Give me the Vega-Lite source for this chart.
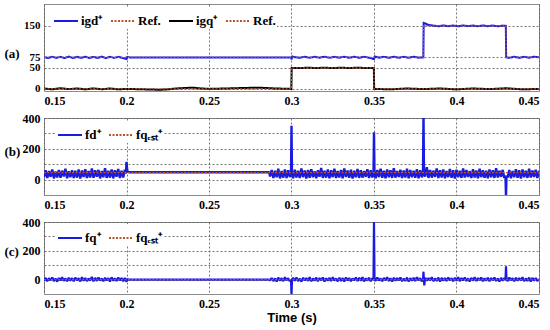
{
"$schema":"https://vega.github.io/schema/vega-lite/v6.json",
"padding":{"left":3,"top":3,"right":0,"bottom":0},
"background":"white",
"spacing":4,
"config":{
"view":{"stroke":"#8c8c8c","strokeWidth":1},
"axis":{"labelFont":"Liberation Serif","labelFontWeight":"bold","labelFontSize":12,"labelColor":"#000","ticks":false,"domain":false,"grid":true,"gridDash":[2,2],"gridColor":"#555","gridWidth":0.8,"labelPadding":4,"labelOverlap":false},
"axisY":{"titleAngle":0,"titleX":-40,"titleAlign":"left","titleBaseline":"middle","titleFont":"Liberation Serif","titleFontWeight":"bold","titleFontSize":13,"titleColor":"#000"},
"legend":{"orient":"none","direction":"horizontal","symbolType":"stroke","symbolSize":576,"symbolStrokeWidth":2,"labelFont":"Liberation Serif","labelFontWeight":"bold","labelFontSize":13,"labelColor":"#000","labelOffset":2,"columnPadding":4,"padding":1,"fillColor":"white","title":null}
},
"datasets":{
"a":[
{"t":0.150,"v":75.5,"s":"igd"},{"t":0.1525,"v":73.5,"s":"igd"},{"t":0.155,"v":76.5,"s":"igd"},{"t":0.1575,"v":73.8,"s":"igd"},{"t":0.160,"v":76.2,"s":"igd"},{"t":0.1625,"v":73.4,"s":"igd"},{"t":0.165,"v":76.8,"s":"igd"},{"t":0.1675,"v":73.6,"s":"igd"},{"t":0.170,"v":76.3,"s":"igd"},{"t":0.1725,"v":73.9,"s":"igd"},{"t":0.175,"v":76.6,"s":"igd"},{"t":0.1775,"v":73.5,"s":"igd"},{"t":0.180,"v":76.1,"s":"igd"},{"t":0.1825,"v":73.7,"s":"igd"},{"t":0.185,"v":76.7,"s":"igd"},{"t":0.1875,"v":73.3,"s":"igd"},{"t":0.190,"v":76.4,"s":"igd"},{"t":0.1925,"v":73.8,"s":"igd"},{"t":0.195,"v":76.2,"s":"igd"},{"t":0.1975,"v":73.6,"s":"igd"},{"t":0.200,"v":71,"s":"igd"},{"t":0.2005,"v":76,"s":"igd"},{"t":0.202,"v":75,"s":"igd"},{"t":0.25,"v":75,"s":"igd"},{"t":0.2999,"v":75,"s":"igd"},{"t":0.300,"v":70,"s":"igd"},{"t":0.3005,"v":77,"s":"igd"},{"t":0.302,"v":75.5,"s":"igd"},
{"t":0.305,"v":74,"s":"igd"},{"t":0.308,"v":76.5,"s":"igd"},{"t":0.311,"v":74,"s":"igd"},{"t":0.314,"v":76.3,"s":"igd"},{"t":0.317,"v":74.2,"s":"igd"},{"t":0.320,"v":76.6,"s":"igd"},{"t":0.323,"v":74,"s":"igd"},{"t":0.326,"v":76.2,"s":"igd"},{"t":0.329,"v":74.3,"s":"igd"},{"t":0.332,"v":76.5,"s":"igd"},{"t":0.335,"v":74.1,"s":"igd"},{"t":0.338,"v":76.4,"s":"igd"},{"t":0.341,"v":74,"s":"igd"},{"t":0.344,"v":76.3,"s":"igd"},{"t":0.347,"v":74.2,"s":"igd"},{"t":0.350,"v":71,"s":"igd"},{"t":0.3505,"v":77,"s":"igd"},{"t":0.353,"v":74.3,"s":"igd"},{"t":0.356,"v":76.4,"s":"igd"},{"t":0.359,"v":74,"s":"igd"},{"t":0.362,"v":76.5,"s":"igd"},{"t":0.365,"v":74.2,"s":"igd"},{"t":0.368,"v":76.3,"s":"igd"},{"t":0.371,"v":74.1,"s":"igd"},{"t":0.374,"v":76.5,"s":"igd"},{"t":0.377,"v":74.3,"s":"igd"},{"t":0.3799,"v":75,"s":"igd"},
{"t":0.3801,"v":157,"s":"igd"},{"t":0.381,"v":156,"s":"igd"},{"t":0.383,"v":152,"s":"igd"},{"t":0.386,"v":150.5,"s":"igd"},{"t":0.389,"v":149,"s":"igd"},{"t":0.392,"v":151,"s":"igd"},{"t":0.395,"v":149.2,"s":"igd"},{"t":0.398,"v":150.8,"s":"igd"},{"t":0.401,"v":149,"s":"igd"},{"t":0.404,"v":151,"s":"igd"},{"t":0.407,"v":149.3,"s":"igd"},{"t":0.410,"v":150.7,"s":"igd"},{"t":0.413,"v":149.1,"s":"igd"},{"t":0.416,"v":151,"s":"igd"},{"t":0.419,"v":149.2,"s":"igd"},{"t":0.422,"v":150.8,"s":"igd"},{"t":0.425,"v":149,"s":"igd"},{"t":0.428,"v":150.6,"s":"igd"},{"t":0.4299,"v":150,"s":"igd"},{"t":0.4301,"v":75,"s":"igd"},{"t":0.432,"v":74,"s":"igd"},{"t":0.435,"v":76.4,"s":"igd"},{"t":0.438,"v":74,"s":"igd"},{"t":0.441,"v":76.3,"s":"igd"},{"t":0.444,"v":74.2,"s":"igd"},{"t":0.447,"v":76.5,"s":"igd"},{"t":0.450,"v":75,"s":"igd"},
{"t":0.150,"v":1,"s":"igq"},{"t":0.155,"v":-1,"s":"igq"},{"t":0.160,"v":1.5,"s":"igq"},{"t":0.165,"v":-0.5,"s":"igq"},{"t":0.170,"v":1,"s":"igq"},{"t":0.175,"v":-1,"s":"igq"},{"t":0.180,"v":1.2,"s":"igq"},{"t":0.185,"v":-0.8,"s":"igq"},{"t":0.190,"v":1,"s":"igq"},{"t":0.195,"v":-1,"s":"igq"},{"t":0.200,"v":0,"s":"igq"},{"t":0.210,"v":-1,"s":"igq"},{"t":0.220,"v":-2,"s":"igq"},{"t":0.225,"v":-1,"s":"igq"},{"t":0.230,"v":1,"s":"igq"},{"t":0.235,"v":2,"s":"igq"},{"t":0.240,"v":3,"s":"igq"},{"t":0.245,"v":1,"s":"igq"},{"t":0.250,"v":0,"s":"igq"},{"t":0.260,"v":1,"s":"igq"},{"t":0.270,"v":2,"s":"igq"},{"t":0.280,"v":3,"s":"igq"},{"t":0.285,"v":2,"s":"igq"},{"t":0.290,"v":1,"s":"igq"},{"t":0.2999,"v":0,"s":"igq"},{"t":0.3001,"v":50,"s":"igq"},{"t":0.305,"v":49.5,"s":"igq"},{"t":0.310,"v":50.5,"s":"igq"},{"t":0.315,"v":49.6,"s":"igq"},{"t":0.320,"v":50.4,"s":"igq"},{"t":0.325,"v":49.5,"s":"igq"},{"t":0.330,"v":50.5,"s":"igq"},{"t":0.335,"v":49.6,"s":"igq"},{"t":0.340,"v":50.4,"s":"igq"},{"t":0.345,"v":49.7,"s":"igq"},{"t":0.3499,"v":50,"s":"igq"},{"t":0.3501,"v":0,"s":"igq"},{"t":0.360,"v":-1,"s":"igq"},{"t":0.370,"v":1,"s":"igq"},{"t":0.380,"v":-0.5,"s":"igq"},{"t":0.390,"v":1,"s":"igq"},{"t":0.400,"v":-1,"s":"igq"},{"t":0.410,"v":1,"s":"igq"},{"t":0.420,"v":-0.5,"s":"igq"},{"t":0.430,"v":1.5,"s":"igq"},{"t":0.440,"v":-1,"s":"igq"},{"t":0.450,"v":0,"s":"igq"},
{"t":0.150,"v":75,"s":"Ref1"},{"t":0.380,"v":75,"s":"Ref1"},{"t":0.38001,"v":150,"s":"Ref1"},{"t":0.430,"v":150,"s":"Ref1"},{"t":0.43001,"v":75,"s":"Ref1"},{"t":0.450,"v":75,"s":"Ref1"},
{"t":0.150,"v":0,"s":"Ref2"},{"t":0.300,"v":0,"s":"Ref2"},{"t":0.30001,"v":50,"s":"Ref2"},{"t":0.350,"v":50,"s":"Ref2"},{"t":0.35001,"v":0,"s":"Ref2"},{"t":0.450,"v":0,"s":"Ref2"}
],
"b":[
{"t":0.150,"v":15,"s":"fd"},{"t":0.151,"v":60,"s":"fd"},{"t":0.152,"v":10,"s":"fd"},{"t":0.153,"v":55,"s":"fd"},{"t":0.154,"v":18,"s":"fd"},{"t":0.155,"v":66,"s":"fd"},{"t":0.156,"v":8,"s":"fd"},{"t":0.157,"v":52,"s":"fd"},{"t":0.158,"v":14,"s":"fd"},{"t":0.159,"v":62,"s":"fd"},{"t":0.160,"v":12,"s":"fd"},{"t":0.161,"v":58,"s":"fd"},{"t":0.162,"v":20,"s":"fd"},{"t":0.163,"v":70,"s":"fd"},{"t":0.164,"v":9,"s":"fd"},{"t":0.165,"v":54,"s":"fd"},{"t":0.166,"v":16,"s":"fd"},{"t":0.167,"v":61,"s":"fd"},{"t":0.168,"v":11,"s":"fd"},{"t":0.169,"v":57,"s":"fd"},{"t":0.170,"v":13,"s":"fd"},{"t":0.171,"v":65,"s":"fd"},{"t":0.172,"v":7,"s":"fd"},{"t":0.173,"v":59,"s":"fd"},{"t":0.174,"v":17,"s":"fd"},{"t":0.175,"v":68,"s":"fd"},{"t":0.176,"v":10,"s":"fd"},{"t":0.177,"v":56,"s":"fd"},{"t":0.178,"v":14,"s":"fd"},{"t":0.179,"v":72,"s":"fd"},{"t":0.180,"v":12,"s":"fd"},{"t":0.181,"v":60,"s":"fd"},{"t":0.182,"v":19,"s":"fd"},{"t":0.183,"v":63,"s":"fd"},{"t":0.184,"v":8,"s":"fd"},{"t":0.185,"v":55,"s":"fd"},{"t":0.186,"v":15,"s":"fd"},{"t":0.187,"v":74,"s":"fd"},{"t":0.188,"v":11,"s":"fd"},{"t":0.189,"v":58,"s":"fd"},{"t":0.190,"v":13,"s":"fd"},{"t":0.191,"v":66,"s":"fd"},{"t":0.192,"v":9,"s":"fd"},{"t":0.193,"v":61,"s":"fd"},{"t":0.194,"v":18,"s":"fd"},{"t":0.195,"v":69,"s":"fd"},{"t":0.196,"v":10,"s":"fd"},{"t":0.197,"v":57,"s":"fd"},{"t":0.198,"v":14,"s":"fd"},{"t":0.199,"v":64,"s":"fd"},{"t":0.1997,"v":40,"s":"fd"},{"t":0.200,"v":115,"s":"fd"},{"t":0.2005,"v":55,"s":"fd"},{"t":0.2015,"v":48,"s":"fd"},{"t":0.2865,"v":48,"s":"fd"},
{"t":0.287,"v":20,"s":"fd"},{"t":0.288,"v":62,"s":"fd"},{"t":0.289,"v":10,"s":"fd"},{"t":0.290,"v":58,"s":"fd"},{"t":0.291,"v":15,"s":"fd"},{"t":0.292,"v":70,"s":"fd"},{"t":0.293,"v":8,"s":"fd"},{"t":0.294,"v":55,"s":"fd"},{"t":0.295,"v":13,"s":"fd"},{"t":0.296,"v":66,"s":"fd"},{"t":0.297,"v":11,"s":"fd"},{"t":0.298,"v":60,"s":"fd"},{"t":0.299,"v":17,"s":"fd"},{"t":0.2997,"v":35,"s":"fd"},{"t":0.300,"v":350,"s":"fd"},{"t":0.3003,"v":35,"s":"fd"},{"t":0.301,"v":9,"s":"fd"},{"t":0.302,"v":64,"s":"fd"},{"t":0.303,"v":14,"s":"fd"},{"t":0.304,"v":57,"s":"fd"},{"t":0.305,"v":10,"s":"fd"},{"t":0.306,"v":72,"s":"fd"},{"t":0.307,"v":16,"s":"fd"},{"t":0.308,"v":59,"s":"fd"},{"t":0.309,"v":7,"s":"fd"},{"t":0.310,"v":63,"s":"fd"},{"t":0.311,"v":12,"s":"fd"},{"t":0.312,"v":68,"s":"fd"},{"t":0.313,"v":15,"s":"fd"},{"t":0.314,"v":54,"s":"fd"},{"t":0.315,"v":9,"s":"fd"},{"t":0.316,"v":61,"s":"fd"},{"t":0.317,"v":18,"s":"fd"},{"t":0.318,"v":75,"s":"fd"},{"t":0.319,"v":11,"s":"fd"},{"t":0.320,"v":58,"s":"fd"},{"t":0.321,"v":13,"s":"fd"},{"t":0.322,"v":65,"s":"fd"},{"t":0.323,"v":8,"s":"fd"},{"t":0.324,"v":60,"s":"fd"},{"t":0.325,"v":16,"s":"fd"},{"t":0.326,"v":70,"s":"fd"},{"t":0.327,"v":10,"s":"fd"},{"t":0.328,"v":56,"s":"fd"},{"t":0.329,"v":14,"s":"fd"},{"t":0.330,"v":62,"s":"fd"},{"t":0.331,"v":9,"s":"fd"},{"t":0.332,"v":73,"s":"fd"},{"t":0.333,"v":17,"s":"fd"},{"t":0.334,"v":59,"s":"fd"},{"t":0.335,"v":12,"s":"fd"},{"t":0.336,"v":64,"s":"fd"},{"t":0.337,"v":7,"s":"fd"},{"t":0.338,"v":57,"s":"fd"},{"t":0.339,"v":15,"s":"fd"},{"t":0.340,"v":69,"s":"fd"},{"t":0.341,"v":11,"s":"fd"},{"t":0.342,"v":61,"s":"fd"},{"t":0.343,"v":13,"s":"fd"},{"t":0.344,"v":55,"s":"fd"},{"t":0.345,"v":18,"s":"fd"},{"t":0.346,"v":67,"s":"fd"},{"t":0.347,"v":10,"s":"fd"},{"t":0.348,"v":60,"s":"fd"},{"t":0.349,"v":14,"s":"fd"},{"t":0.3497,"v":35,"s":"fd"},{"t":0.350,"v":307,"s":"fd"},{"t":0.3503,"v":35,"s":"fd"},{"t":0.351,"v":9,"s":"fd"},{"t":0.352,"v":63,"s":"fd"},{"t":0.353,"v":16,"s":"fd"},{"t":0.354,"v":71,"s":"fd"},{"t":0.355,"v":12,"s":"fd"},{"t":0.356,"v":58,"s":"fd"},{"t":0.357,"v":8,"s":"fd"},{"t":0.358,"v":66,"s":"fd"},{"t":0.359,"v":15,"s":"fd"},{"t":0.360,"v":61,"s":"fd"},{"t":0.361,"v":11,"s":"fd"},{"t":0.362,"v":74,"s":"fd"},{"t":0.363,"v":13,"s":"fd"},{"t":0.364,"v":56,"s":"fd"},{"t":0.365,"v":17,"s":"fd"},{"t":0.366,"v":64,"s":"fd"},{"t":0.367,"v":10,"s":"fd"},{"t":0.368,"v":59,"s":"fd"},{"t":0.369,"v":14,"s":"fd"},{"t":0.370,"v":70,"s":"fd"},{"t":0.371,"v":9,"s":"fd"},{"t":0.372,"v":62,"s":"fd"},{"t":0.373,"v":16,"s":"fd"},{"t":0.374,"v":57,"s":"fd"},{"t":0.375,"v":12,"s":"fd"},{"t":0.376,"v":68,"s":"fd"},{"t":0.377,"v":8,"s":"fd"},{"t":0.378,"v":60,"s":"fd"},{"t":0.379,"v":15,"s":"fd"},{"t":0.3797,"v":35,"s":"fd"},{"t":0.380,"v":420,"s":"fd"},{"t":0.3803,"v":40,"s":"fd"},{"t":0.381,"v":20,"s":"fd"},{"t":0.382,"v":80,"s":"fd"},{"t":0.383,"v":11,"s":"fd"},{"t":0.384,"v":63,"s":"fd"},{"t":0.385,"v":13,"s":"fd"},{"t":0.386,"v":58,"s":"fd"},{"t":0.387,"v":18,"s":"fd"},{"t":0.388,"v":72,"s":"fd"},{"t":0.389,"v":10,"s":"fd"},{"t":0.390,"v":61,"s":"fd"},{"t":0.391,"v":14,"s":"fd"},{"t":0.392,"v":65,"s":"fd"},{"t":0.393,"v":9,"s":"fd"},{"t":0.394,"v":56,"s":"fd"},{"t":0.395,"v":16,"s":"fd"},{"t":0.396,"v":69,"s":"fd"},{"t":0.397,"v":12,"s":"fd"},{"t":0.398,"v":60,"s":"fd"},{"t":0.399,"v":7,"s":"fd"},{"t":0.400,"v":64,"s":"fd"},{"t":0.401,"v":15,"s":"fd"},{"t":0.402,"v":58,"s":"fd"},{"t":0.403,"v":11,"s":"fd"},{"t":0.404,"v":73,"s":"fd"},{"t":0.405,"v":13,"s":"fd"},{"t":0.406,"v":62,"s":"fd"},{"t":0.407,"v":17,"s":"fd"},{"t":0.408,"v":55,"s":"fd"},{"t":0.409,"v":10,"s":"fd"},{"t":0.410,"v":67,"s":"fd"},{"t":0.411,"v":14,"s":"fd"},{"t":0.412,"v":59,"s":"fd"},{"t":0.413,"v":8,"s":"fd"},{"t":0.414,"v":70,"s":"fd"},{"t":0.415,"v":16,"s":"fd"},{"t":0.416,"v":61,"s":"fd"},{"t":0.417,"v":12,"s":"fd"},{"t":0.418,"v":57,"s":"fd"},{"t":0.419,"v":9,"s":"fd"},{"t":0.420,"v":66,"s":"fd"},{"t":0.421,"v":15,"s":"fd"},{"t":0.422,"v":60,"s":"fd"},{"t":0.423,"v":11,"s":"fd"},{"t":0.424,"v":74,"s":"fd"},{"t":0.425,"v":13,"s":"fd"},{"t":0.426,"v":58,"s":"fd"},{"t":0.427,"v":18,"s":"fd"},{"t":0.428,"v":63,"s":"fd"},{"t":0.429,"v":10,"s":"fd"},{"t":0.4297,"v":25,"s":"fd"},{"t":0.430,"v":-110,"s":"fd"},{"t":0.4303,"v":25,"s":"fd"},{"t":0.431,"v":14,"s":"fd"},{"t":0.432,"v":62,"s":"fd"},{"t":0.433,"v":9,"s":"fd"},{"t":0.434,"v":56,"s":"fd"},{"t":0.435,"v":16,"s":"fd"},{"t":0.436,"v":68,"s":"fd"},{"t":0.437,"v":12,"s":"fd"},{"t":0.438,"v":60,"s":"fd"},{"t":0.439,"v":7,"s":"fd"},{"t":0.440,"v":65,"s":"fd"},{"t":0.441,"v":15,"s":"fd"},{"t":0.442,"v":58,"s":"fd"},{"t":0.443,"v":11,"s":"fd"},{"t":0.444,"v":71,"s":"fd"},{"t":0.445,"v":13,"s":"fd"},{"t":0.446,"v":59,"s":"fd"},{"t":0.447,"v":17,"s":"fd"},{"t":0.448,"v":64,"s":"fd"},{"t":0.449,"v":10,"s":"fd"},{"t":0.450,"v":57,"s":"fd"},
{"t":0.150,"v":45,"s":"est"},{"t":0.450,"v":45,"s":"est"}
],
"c":[
{"t":0.150,"v":-8,"s":"fq"},{"t":0.151,"v":12,"s":"fq"},{"t":0.152,"v":-12,"s":"fq"},{"t":0.153,"v":9,"s":"fq"},{"t":0.154,"v":-5,"s":"fq"},{"t":0.155,"v":15,"s":"fq"},{"t":0.156,"v":-10,"s":"fq"},{"t":0.157,"v":7,"s":"fq"},{"t":0.158,"v":-14,"s":"fq"},{"t":0.159,"v":11,"s":"fq"},{"t":0.160,"v":-6,"s":"fq"},{"t":0.161,"v":16,"s":"fq"},{"t":0.162,"v":-9,"s":"fq"},{"t":0.163,"v":8,"s":"fq"},{"t":0.164,"v":-12,"s":"fq"},{"t":0.165,"v":13,"s":"fq"},{"t":0.166,"v":-7,"s":"fq"},{"t":0.167,"v":10,"s":"fq"},{"t":0.168,"v":-11,"s":"fq"},{"t":0.169,"v":14,"s":"fq"},{"t":0.170,"v":-5,"s":"fq"},{"t":0.171,"v":9,"s":"fq"},{"t":0.172,"v":-13,"s":"fq"},{"t":0.173,"v":17,"s":"fq"},{"t":0.174,"v":-8,"s":"fq"},{"t":0.175,"v":11,"s":"fq"},{"t":0.176,"v":-10,"s":"fq"},{"t":0.177,"v":7,"s":"fq"},{"t":0.178,"v":-6,"s":"fq"},{"t":0.179,"v":18,"s":"fq"},{"t":0.180,"v":-12,"s":"fq"},{"t":0.181,"v":12,"s":"fq"},{"t":0.182,"v":-9,"s":"fq"},{"t":0.183,"v":15,"s":"fq"},{"t":0.184,"v":-7,"s":"fq"},{"t":0.185,"v":8,"s":"fq"},{"t":0.186,"v":-11,"s":"fq"},{"t":0.187,"v":13,"s":"fq"},{"t":0.188,"v":-5,"s":"fq"},{"t":0.189,"v":10,"s":"fq"},{"t":0.190,"v":-13,"s":"fq"},{"t":0.191,"v":16,"s":"fq"},{"t":0.192,"v":-8,"s":"fq"},{"t":0.193,"v":9,"s":"fq"},{"t":0.194,"v":-10,"s":"fq"},{"t":0.195,"v":14,"s":"fq"},{"t":0.196,"v":-6,"s":"fq"},{"t":0.197,"v":11,"s":"fq"},{"t":0.198,"v":-12,"s":"fq"},{"t":0.199,"v":12,"s":"fq"},{"t":0.200,"v":-15,"s":"fq"},{"t":0.2005,"v":5,"s":"fq"},{"t":0.201,"v":0,"s":"fq"},{"t":0.2865,"v":0,"s":"fq"},
{"t":0.287,"v":-6,"s":"fq"},{"t":0.288,"v":11,"s":"fq"},{"t":0.289,"v":-10,"s":"fq"},{"t":0.290,"v":8,"s":"fq"},{"t":0.291,"v":-13,"s":"fq"},{"t":0.292,"v":14,"s":"fq"},{"t":0.293,"v":-7,"s":"fq"},{"t":0.294,"v":10,"s":"fq"},{"t":0.295,"v":-11,"s":"fq"},{"t":0.296,"v":16,"s":"fq"},{"t":0.297,"v":-5,"s":"fq"},{"t":0.298,"v":9,"s":"fq"},{"t":0.299,"v":-12,"s":"fq"},{"t":0.2997,"v":0,"s":"fq"},{"t":0.300,"v":-110,"s":"fq"},{"t":0.3003,"v":0,"s":"fq"},{"t":0.301,"v":12,"s":"fq"},{"t":0.302,"v":-8,"s":"fq"},{"t":0.303,"v":15,"s":"fq"},{"t":0.304,"v":-10,"s":"fq"},{"t":0.305,"v":7,"s":"fq"},{"t":0.306,"v":-14,"s":"fq"},{"t":0.307,"v":13,"s":"fq"},{"t":0.308,"v":-6,"s":"fq"},{"t":0.309,"v":10,"s":"fq"},{"t":0.310,"v":-9,"s":"fq"},{"t":0.311,"v":17,"s":"fq"},{"t":0.312,"v":-12,"s":"fq"},{"t":0.313,"v":8,"s":"fq"},{"t":0.314,"v":-7,"s":"fq"},{"t":0.315,"v":14,"s":"fq"},{"t":0.316,"v":-11,"s":"fq"},{"t":0.317,"v":11,"s":"fq"},{"t":0.318,"v":-5,"s":"fq"},{"t":0.319,"v":15,"s":"fq"},{"t":0.320,"v":-13,"s":"fq"},{"t":0.321,"v":9,"s":"fq"},{"t":0.322,"v":-8,"s":"fq"},{"t":0.323,"v":12,"s":"fq"},{"t":0.324,"v":-10,"s":"fq"},{"t":0.325,"v":16,"s":"fq"},{"t":0.326,"v":-6,"s":"fq"},{"t":0.327,"v":7,"s":"fq"},{"t":0.328,"v":-12,"s":"fq"},{"t":0.329,"v":13,"s":"fq"},{"t":0.330,"v":-9,"s":"fq"},{"t":0.331,"v":10,"s":"fq"},{"t":0.332,"v":-14,"s":"fq"},{"t":0.333,"v":15,"s":"fq"},{"t":0.334,"v":-7,"s":"fq"},{"t":0.335,"v":11,"s":"fq"},{"t":0.336,"v":-11,"s":"fq"},{"t":0.337,"v":8,"s":"fq"},{"t":0.338,"v":-5,"s":"fq"},{"t":0.339,"v":14,"s":"fq"},{"t":0.340,"v":-10,"s":"fq"},{"t":0.341,"v":12,"s":"fq"},{"t":0.342,"v":-8,"s":"fq"},{"t":0.343,"v":17,"s":"fq"},{"t":0.344,"v":-13,"s":"fq"},{"t":0.345,"v":9,"s":"fq"},{"t":0.346,"v":-6,"s":"fq"},{"t":0.347,"v":13,"s":"fq"},{"t":0.348,"v":-11,"s":"fq"},{"t":0.349,"v":10,"s":"fq"},{"t":0.3497,"v":0,"s":"fq"},{"t":0.350,"v":410,"s":"fq"},{"t":0.3503,"v":0,"s":"fq"},{"t":0.351,"v":-9,"s":"fq"},{"t":0.352,"v":15,"s":"fq"},{"t":0.353,"v":-7,"s":"fq"},{"t":0.354,"v":8,"s":"fq"},{"t":0.355,"v":-12,"s":"fq"},{"t":0.356,"v":12,"s":"fq"},{"t":0.357,"v":-5,"s":"fq"},{"t":0.358,"v":16,"s":"fq"},{"t":0.359,"v":-10,"s":"fq"},{"t":0.360,"v":9,"s":"fq"},{"t":0.361,"v":-14,"s":"fq"},{"t":0.362,"v":13,"s":"fq"},{"t":0.363,"v":-8,"s":"fq"},{"t":0.364,"v":11,"s":"fq"},{"t":0.365,"v":-6,"s":"fq"},{"t":0.366,"v":15,"s":"fq"},{"t":0.367,"v":-11,"s":"fq"},{"t":0.368,"v":7,"s":"fq"},{"t":0.369,"v":-9,"s":"fq"},{"t":0.370,"v":14,"s":"fq"},{"t":0.371,"v":-13,"s":"fq"},{"t":0.372,"v":10,"s":"fq"},{"t":0.373,"v":-7,"s":"fq"},{"t":0.374,"v":12,"s":"fq"},{"t":0.375,"v":-10,"s":"fq"},{"t":0.376,"v":17,"s":"fq"},{"t":0.377,"v":-5,"s":"fq"},{"t":0.378,"v":9,"s":"fq"},{"t":0.379,"v":-12,"s":"fq"},{"t":0.3797,"v":0,"s":"fq"},{"t":0.380,"v":55,"s":"fq"},{"t":0.3802,"v":0,"s":"fq"},{"t":0.3805,"v":-40,"s":"fq"},{"t":0.3808,"v":0,"s":"fq"},{"t":0.381,"v":13,"s":"fq"},{"t":0.382,"v":-8,"s":"fq"},{"t":0.383,"v":11,"s":"fq"},{"t":0.384,"v":-6,"s":"fq"},{"t":0.385,"v":16,"s":"fq"},{"t":0.386,"v":-11,"s":"fq"},{"t":0.387,"v":8,"s":"fq"},{"t":0.388,"v":-9,"s":"fq"},{"t":0.389,"v":14,"s":"fq"},{"t":0.390,"v":-13,"s":"fq"},{"t":0.391,"v":12,"s":"fq"},{"t":0.392,"v":-7,"s":"fq"},{"t":0.393,"v":10,"s":"fq"},{"t":0.394,"v":-10,"s":"fq"},{"t":0.395,"v":15,"s":"fq"},{"t":0.396,"v":-5,"s":"fq"},{"t":0.397,"v":9,"s":"fq"},{"t":0.398,"v":-12,"s":"fq"},{"t":0.399,"v":13,"s":"fq"},{"t":0.400,"v":-8,"s":"fq"},{"t":0.401,"v":17,"s":"fq"},{"t":0.402,"v":-11,"s":"fq"},{"t":0.403,"v":11,"s":"fq"},{"t":0.404,"v":-6,"s":"fq"},{"t":0.405,"v":14,"s":"fq"},{"t":0.406,"v":-9,"s":"fq"},{"t":0.407,"v":8,"s":"fq"},{"t":0.408,"v":-13,"s":"fq"},{"t":0.409,"v":12,"s":"fq"},{"t":0.410,"v":-7,"s":"fq"},{"t":0.411,"v":16,"s":"fq"},{"t":0.412,"v":-10,"s":"fq"},{"t":0.413,"v":10,"s":"fq"},{"t":0.414,"v":-5,"s":"fq"},{"t":0.415,"v":15,"s":"fq"},{"t":0.416,"v":-12,"s":"fq"},{"t":0.417,"v":9,"s":"fq"},{"t":0.418,"v":-8,"s":"fq"},{"t":0.419,"v":13,"s":"fq"},{"t":0.420,"v":-11,"s":"fq"},{"t":0.421,"v":11,"s":"fq"},{"t":0.422,"v":-6,"s":"fq"},{"t":0.423,"v":14,"s":"fq"},{"t":0.424,"v":-9,"s":"fq"},{"t":0.425,"v":7,"s":"fq"},{"t":0.426,"v":-13,"s":"fq"},{"t":0.427,"v":12,"s":"fq"},{"t":0.428,"v":-7,"s":"fq"},{"t":0.429,"v":10,"s":"fq"},{"t":0.4297,"v":0,"s":"fq"},{"t":0.430,"v":93,"s":"fq"},{"t":0.4303,"v":0,"s":"fq"},{"t":0.431,"v":-10,"s":"fq"},{"t":0.432,"v":15,"s":"fq"},{"t":0.433,"v":-5,"s":"fq"},{"t":0.434,"v":9,"s":"fq"},{"t":0.435,"v":-12,"s":"fq"},{"t":0.436,"v":13,"s":"fq"},{"t":0.437,"v":-8,"s":"fq"},{"t":0.438,"v":11,"s":"fq"},{"t":0.439,"v":-6,"s":"fq"},{"t":0.440,"v":16,"s":"fq"},{"t":0.441,"v":-11,"s":"fq"},{"t":0.442,"v":8,"s":"fq"},{"t":0.443,"v":-9,"s":"fq"},{"t":0.444,"v":14,"s":"fq"},{"t":0.445,"v":-13,"s":"fq"},{"t":0.446,"v":12,"s":"fq"},{"t":0.447,"v":-7,"s":"fq"},{"t":0.448,"v":10,"s":"fq"},{"t":0.449,"v":-10,"s":"fq"},{"t":0.450,"v":5,"s":"fq"},
{"t":0.150,"v":0,"s":"est"},{"t":0.450,"v":0,"s":"est"}
]
},
"vconcat":[
{
"width":495,"height":87,
"data":{"name":"a"},
"encoding":{
"x":{"field":"t","type":"quantitative","scale":{"domain":[0.15,0.45],"nice":false,"zero":false},"axis":{"values":[0.15,0.2,0.25,0.3,0.35,0.4,0.45],"format":"~g","title":null}},
"y":{"field":"v","type":"quantitative","scale":{"domain":[-5,202],"nice":false,"zero":false},"axis":{"values":[0,50,75,150],"labelFontSize":11,"title":"(a)","titleY":49}},
"color":{"field":"s","type":"nominal","scale":{"domain":["igd","Ref1","igq","Ref2"],"range":["#1a1ae0","#b5552a","#000000","#b5552a"]},"legend":{"legendX":8,"legendY":3,"columns":4,"labelExpr":"datum.value=='igd' ? 'igd⁺' : datum.value=='igq' ? 'igq⁺' : 'Ref.'"}},
"strokeDash":{"field":"s","type":"nominal","scale":{"domain":["igd","Ref1","igq","Ref2"],"range":[[1,0],[2,1.5],[1,0],[2,1.5]]},"legend":{"legendX":8,"legendY":3,"columns":4,"labelExpr":"datum.value=='igd' ? 'igd⁺' : datum.value=='igq' ? 'igq⁺' : 'Ref.'"}}
},
"layer":[
{"transform":[{"filter":"datum.s=='igd' || datum.s=='igq'"}],"mark":{"type":"line","strokeWidth":2,"clip":true}},
{"transform":[{"filter":"datum.s=='Ref1' || datum.s=='Ref2'"}],"mark":{"type":"line","strokeWidth":1.3,"clip":true}}
]
},
{
"width":495,"height":77,
"data":{"name":"b"},
"encoding":{
"x":{"field":"t","type":"quantitative","scale":{"domain":[0.15,0.45],"nice":false,"zero":false},"axis":{"values":[0.15,0.2,0.25,0.3,0.35,0.4,0.45],"format":"~g","title":null}},
"y":{"field":"v","type":"quantitative","scale":{"domain":[-100,400],"nice":false,"zero":false},"axis":{"values":[0,100,200,300,400],"labelExpr":"datum.value % 200 == 0 ? datum.label : ''","title":"(b)","titleY":33}},
"color":{"field":"s","type":"nominal","scale":{"domain":["fd","est"],"range":["#1a1ae0","#b5552a"]},"legend":{"legendX":12,"legendY":3,"columns":2,"labelExpr":"datum.value=='fd' ? 'fd⁺' : 'fqₑₛₜ⁺'"}},
"strokeDash":{"field":"s","type":"nominal","scale":{"domain":["fd","est"],"range":[[1,0],[2,1.5]]},"legend":{"legendX":12,"legendY":3,"columns":2,"labelExpr":"datum.value=='fd' ? 'fd⁺' : 'fqₑₛₜ⁺'"}}
},
"layer":[
{"transform":[{"filter":"datum.s=='fd'"}],"mark":{"type":"line","strokeWidth":2.4,"strokeJoin":"bevel","clip":true}},
{"transform":[{"filter":"datum.s=='est'"}],"mark":{"type":"line","strokeWidth":1.2,"clip":true}}
]
},
{
"width":495,"height":72,
"data":{"name":"c"},
"encoding":{
"x":{"field":"t","type":"quantitative","scale":{"domain":[0.15,0.45],"nice":false,"zero":false},"axis":{"values":[0.15,0.2,0.25,0.3,0.35,0.4,0.45],"format":"~g","title":"Time (s)","titleFont":"Liberation Sans","titleFontWeight":"bold","titleFontSize":13,"titleColor":"#000","titlePadding":2}},
"y":{"field":"v","type":"quantitative","scale":{"domain":[-100,400],"nice":false,"zero":false},"axis":{"values":[0,100,200,300,400],"labelExpr":"datum.value % 200 == 0 ? datum.label : ''","title":"(c)","titleY":29}},
"color":{"field":"s","type":"nominal","scale":{"domain":["fq","est"],"range":["#1a1ae0","#b5552a"]},"legend":{"legendX":12,"legendY":2,"columns":2,"labelExpr":"datum.value=='fq' ? 'fq⁺' : 'fqₑₛₜ⁺'"}},
"strokeDash":{"field":"s","type":"nominal","scale":{"domain":["fq","est"],"range":[[1,0],[2,1.5]]},"legend":{"legendX":12,"legendY":2,"columns":2,"labelExpr":"datum.value=='fq' ? 'fq⁺' : 'fqₑₛₜ⁺'"}}
},
"layer":[
{"transform":[{"filter":"datum.s=='fq'"}],"mark":{"type":"line","strokeWidth":2.2,"strokeJoin":"bevel","clip":true}},
{"transform":[{"filter":"datum.s=='est'"}],"mark":{"type":"line","strokeWidth":1.2,"clip":true}}
]
}
],
"resolve":{"scale":{"color":"independent","strokeDash":"independent","y":"independent","x":"independent"},"legend":{"color":"independent","strokeDash":"independent"}}
}
